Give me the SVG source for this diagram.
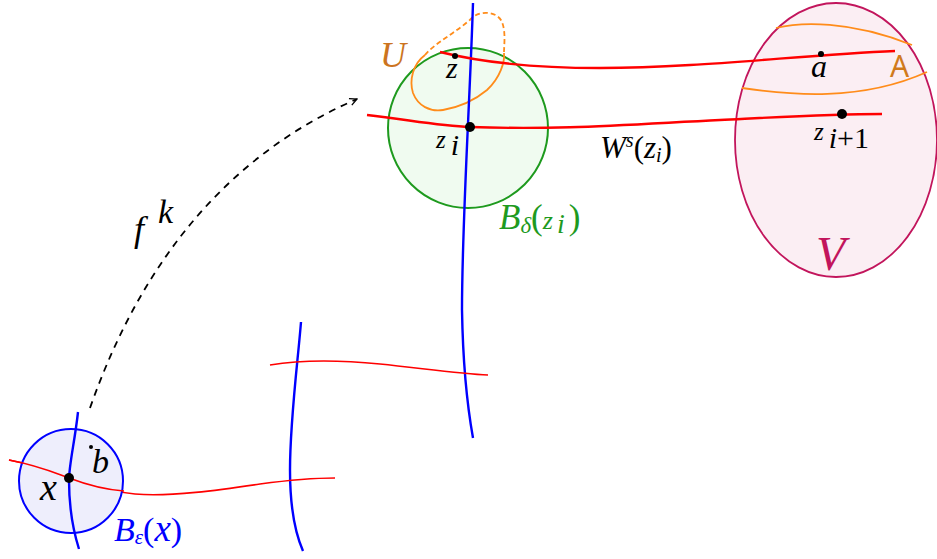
<svg xmlns="http://www.w3.org/2000/svg" width="937" height="559" viewBox="0 0 937 559">
<defs>
<style>
.red{fill:none;stroke:#ff0000;stroke-width:2.4}
.redthin{fill:none;stroke:#ff0000;stroke-width:1.6}
.blue{fill:none;stroke:#0000ff;stroke-width:2.4}
.orange{fill:none;stroke:#ff8c1a;stroke-width:1.8}
.dot{fill:#000}
.m{font-family:"Liberation Serif","DejaVu Serif",serif;font-style:italic}
.r{font-family:"Liberation Serif","DejaVu Serif",serif;font-style:normal}
</style>
<marker id="arr" viewBox="0 0 10 10" refX="9" refY="5" markerWidth="9" markerHeight="9" markerUnits="userSpaceOnUse" orient="auto">
<path d="M1,1 L9,5 L1,9" fill="none" stroke="#000" stroke-width="1.4"/>
</marker>
</defs>
<rect width="937" height="559" fill="#fff"/>

<g id="V">
<ellipse cx="836" cy="140" rx="101" ry="137" fill="#fbeef3" stroke="#c2155c" stroke-width="1.8"/>
<text class="m" x="816" y="270" font-size="48" fill="#c2155c">V</text>
</g>

<g id="A">
<path class="orange" d="M776,28 C800,22 850,20 912,45"/>
<path class="orange" d="M742,88 C790,95 860,102 927,72"/>
<text x="890" y="77" font-family="'Noto Sans','Liberation Sans',sans-serif" font-size="30" fill="#d07a1c">A</text>
</g>

<g id="ball-delta">
<circle cx="468" cy="128" r="80" fill="#f0fbf0" stroke="#1e9a1e" stroke-width="2"/>
<text class="m" x="499" y="229" font-size="35" fill="#1e9a1e">B<tspan font-size="23" dy="4">δ</tspan><tspan class="r" dy="-4">(</tspan><tspan font-size="26">z</tspan><tspan font-size="28" dx="4" dy="4">i</tspan><tspan class="r" dx="4" dy="-4">)</tspan></text>
</g>

<g id="U">
<path class="orange" d="M425,55 C432,45 460,30 473,17 C482,10 498,12 502,22 C506,32 504,45 504,53" stroke-dasharray="5,3"/>
<path class="orange" d="M504,53 C505,62 500,78 487,90 C475,100 460,107 443,110 C430,112 418,106 413,93 C409,80 413,64 425,55"/>
<text class="m" x="380" y="67" font-size="36" fill="#cc7420">U</text>
</g>

<g id="connectors">
<path class="blue" d="M473,3 C470,100 462,220 462,310 C463,370 468,410 473,438"/>
<path class="red" d="M440,52 C480,62 530,68 600,68 C700,68 800,55 895,51"/>
<path class="red" d="M367,115 C410,120 440,126 470,127 C560,130 620,125 720,120 C780,117 830,114 882,114"/>
<path d="M90,408 Q170,180 357,99" fill="none" stroke="#000" stroke-width="1.8" stroke-dasharray="7,6" marker-end="url(#arr)"/>
<path class="blue" d="M301,322 C298,360 290,420 290,470 C290,510 296,535 303,551"/>
<path class="redthin" d="M270,365 C300,360 340,360 380,364 C420,368 460,374 488,375"/>
<path class="redthin" d="M9,460 C40,466 60,475 78,481 C100,488 115,492 135,494 C170,497 220,490 260,484 C290,480 315,478 335,478"/>
</g>

<g id="ball-eps">
<circle cx="71" cy="481" r="52" fill="#eeeefc" stroke="#0000ff" stroke-width="2"/>
<path class="blue" stroke-width="2" d="M78,412 C75,440 69,465 69,480 C69,505 73,530 79,549"/>
<path class="redthin" d="M9,460 C40,466 55,473 69,478 C90,486 110,490 124,491"/>
<text class="m" x="114" y="541" font-size="34" fill="#0000ff">B<tspan font-size="21" dy="3">ε</tspan><tspan class="r" dy="-3">(</tspan><tspan font-size="37">x</tspan><tspan class="r">)</tspan></text>
</g>

<g id="points">
<circle class="dot" cx="470" cy="127" r="5"/>
<circle class="dot" cx="455" cy="56" r="3"/>
<circle class="dot" cx="821" cy="54" r="3"/>
<circle class="dot" cx="842" cy="114" r="5"/>
<circle class="dot" cx="69" cy="478" r="5"/>
<circle class="dot" cx="91" cy="447" r="2"/>
</g>

<g id="labels">
<text class="m" x="446" y="78" font-size="30">z</text>
<text class="m" x="811" y="77" font-size="32">a</text>
<text class="m" x="436" y="148" font-size="25">z<tspan font-size="30" dx="5" dy="7">i</tspan></text>
<text class="m" x="814" y="140" font-size="25">z<tspan font-size="30" dx="5" dy="8">i</tspan><tspan class="r" font-size="30">+1</tspan></text>
<text class="m" x="600" y="158" font-size="31">W<tspan font-size="20" dy="-11">s</tspan><tspan class="r" dy="11">(</tspan>z<tspan font-size="20" dy="4">i</tspan><tspan class="r" dy="-4">)</tspan></text>
<text class="m" x="134" y="241" font-size="36">f</text>
<text class="m" x="158" y="223" font-size="34">k</text>
<text class="m" x="40" y="500" font-size="38">x</text>
<text class="m" x="92" y="473" font-size="34">b</text>
</g>
</svg>
